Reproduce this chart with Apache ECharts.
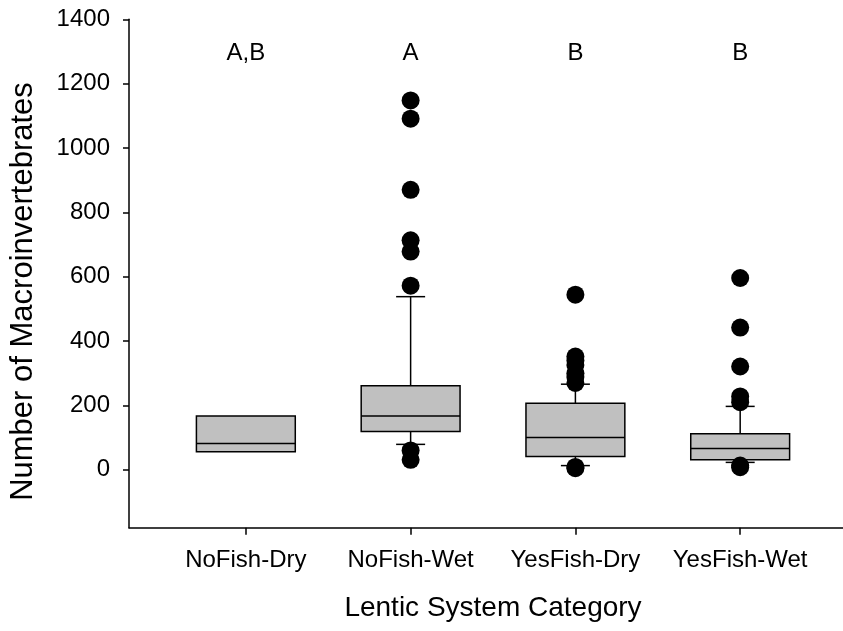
<!DOCTYPE html>
<html>
<head>
<meta charset="utf-8">
<script src="https://cdn.jsdelivr.net/npm/echarts@6/dist/echarts.min.js"></script>
<style>
  html, body { margin: 0; padding: 0; background: #ffffff; }
  #chart { width: 843px; height: 631px; }
</style>
</head>
<body>
<div id="chart"></div>
<script>
// categories on the x axis (positions 1..4)
const categories = ['NoFish-Dry', 'NoFish-Wet', 'YesFish-Dry', 'YesFish-Wet']

// box statistics
const whiskerLow = [56, 79, 13, 23]
const q1 = [56, 119, 41, 31]
const median = [82, 167, 100, 66]
const q3 = [167, 261, 207, 112]
const whiskerHigh = [167, 538, 266, 197]

// outlying points for each category
const outliers = [
  [],
  [1148, 1091, 870, 713, 678, 572, 60, 31],
  [544, 352, 340, 326, 300, 288, 270, 9, 5],
  [596, 442, 321, 228, 210, 13, 8],
]

// significance letters above each box
const letters = ['A,B', 'A', 'B', 'B']
const letterLevel = 1295

const yTicks = [0, 200, 400, 600, 800, 1000, 1200, 1400]
const xTicks = [1, 2, 3, 4]

const fontFamily = '"Liberation Sans", Arial, sans-serif'
const boxWidth = 0.6
const capWidth = 0.176

const boxData = categories.map((c, i) => [i + 1, whiskerLow[i], q1[i], median[i], q3[i], whiskerHigh[i]])

const outlierData = []
outliers.forEach((list, i) => {
  list.forEach((v) => outlierData.push([i + 1, v]))
})

const letterData = letters.map((t, i) => ({ value: [i + 1, letterLevel], name: t }))

const chart = echarts.init(document.getElementById('chart'), null, { renderer: 'canvas' })

const lineStyle = { stroke: '#000000', lineWidth: 1.5 }

function renderBox(params, api) {
  const x = api.value(0)
  const lo = api.value(1)
  const a = api.value(2)
  const med = api.value(3)
  const b = api.value(4)
  const hi = api.value(5)
  const half = api.size([boxWidth, 0])[0] / 2
  const capHalf = api.size([capWidth, 0])[0] / 2
  const cx = api.coord([x, 0])[0]
  const yLo = api.coord([x, lo])[1]
  const yA = api.coord([x, a])[1]
  const yMed = api.coord([x, med])[1]
  const yB = api.coord([x, b])[1]
  const yHi = api.coord([x, hi])[1]
  const children = []
  if (lo < a) {
    children.push({ type: 'line', shape: { x1: cx, y1: yA, x2: cx, y2: yLo }, style: lineStyle })
    children.push({ type: 'line', shape: { x1: cx - capHalf, y1: yLo, x2: cx + capHalf, y2: yLo }, style: lineStyle })
  }
  if (hi > b) {
    children.push({ type: 'line', shape: { x1: cx, y1: yB, x2: cx, y2: yHi }, style: lineStyle })
    children.push({ type: 'line', shape: { x1: cx - capHalf, y1: yHi, x2: cx + capHalf, y2: yHi }, style: lineStyle })
  }
  children.push({
    type: 'rect',
    shape: { x: cx - half, y: yB, width: half * 2, height: yA - yB },
    style: { fill: '#c0c0c0', stroke: '#000000', lineWidth: 1.5 },
  })
  children.push({ type: 'line', shape: { x1: cx - half, y1: yMed, x2: cx + half, y2: yMed }, style: lineStyle })
  return { type: 'group', children: children }
}

const option = {
  backgroundColor: '#ffffff',
  animation: false,
  grid: { left: 128, right: 0, top: 19.3, bottom: 103.3 },
  xAxis: {
    type: 'value',
    min: 0.2909,
    max: 4.624,
    name: 'Lentic System Category',
    nameLocation: 'middle',
    nameGap: 67,
    nameTextStyle: { fontFamily: fontFamily, fontSize: 28, color: '#000000', padding: [0, 0, 0, 14] },
    axisLine: { onZero: false, lineStyle: { color: '#000000', width: 1.5 } },
    axisTick: { show: true, inside: false, length: 7, customValues: xTicks, lineStyle: { color: '#000000', width: 1.5 } },
    axisLabel: {
      customValues: xTicks,
      formatter: (v) => categories[Math.round(v) - 1],
      margin: 21,
      fontFamily: fontFamily,
      fontSize: 24,
      color: '#000000',
    },
    splitLine: { show: false },
  },
  yAxis: {
    type: 'value',
    min: -180,
    max: 1400,
    name: 'Number of Macroinvertebrates',
    nameLocation: 'middle',
    nameGap: 90,
    nameTextStyle: { fontFamily: fontFamily, fontSize: 31, color: '#000000', padding: [0, 36, 0, 0] },
    axisLine: { show: true, onZero: false, lineStyle: { color: '#000000', width: 1.5 } },
    axisTick: { show: true, inside: false, length: 6, customValues: yTicks, lineStyle: { color: '#000000', width: 1.5 } },
    axisLabel: {
      customValues: yTicks,
      formatter: (v) => String(v),
      margin: 19,
      fontFamily: fontFamily,
      fontSize: 24,
      color: '#000000',
    },
    splitLine: { show: false },
  },
  series: [
    {
      type: 'custom',
      renderItem: renderBox,
      data: boxData,
      z: 2,
    },
    {
      type: 'scatter',
      data: outlierData,
      symbol: 'circle',
      symbolSize: 18,
      itemStyle: { color: '#000000', opacity: 1 },
      z: 3,
    },
    {
      type: 'scatter',
      data: letterData,
      symbolSize: 0,
      itemStyle: { color: '#000000' },
      label: {
        show: true,
        position: 'inside',
        formatter: (p) => p.name,
        fontFamily: fontFamily,
        fontSize: 24,
        color: '#000000',
        opacity: 1,
      },
      z: 4,
    },
  ],
}

chart.setOption(option)
</script>
</body>
</html>
